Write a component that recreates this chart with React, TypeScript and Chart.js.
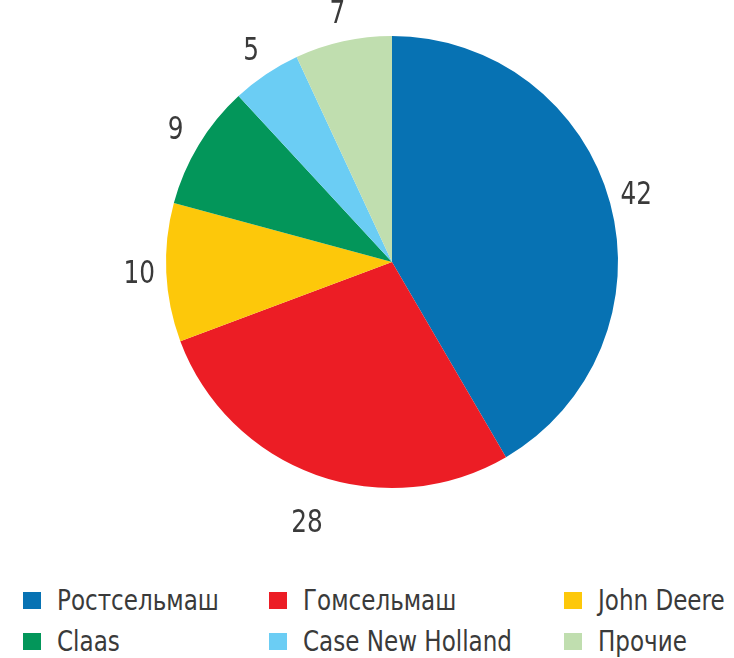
import React, { useEffect, useRef } from "react";
import { Chart, registerables } from "chart.js";

Chart.register(...registerables);

const categories = ["Ростсельмаш", "Гомсельмаш", "John Deere", "Claas", "Case New Holland", "Прочие"];
const shares = [42, 28, 10, 9, 5, 7];
const colors = ["#0772b3", "#ec1d25", "#fdc80a", "#03965a", "#6bcdf4", "#c0deaf"];
// legend order as in the picture (row-major, 3 columns)
const legendOrder = [0, 1, 2, 3, 4, 5];

const FONT = '"DejaVu Sans Condensed", "Liberation Sans Narrow", "Roboto", sans-serif';

const outerLabels = {
  id: "outerLabels",
  afterDraw(chart: any) {
    const ctx = chart.ctx;
    const meta = chart.getDatasetMeta(0);
    ctx.save();
    ctx.fillStyle = "#3a3a3a";
    ctx.font = `32px ${FONT}`;
    ctx.textAlign = "center";
    ctx.textBaseline = "middle";
    meta.data.forEach((arc: any, i: number) => {
      const { x, y, startAngle, endAngle, outerRadius } = arc.getProps(
        ["x", "y", "startAngle", "endAngle", "outerRadius"],
        true
      );
      const mid = (startAngle + endAngle) / 2;
      const r = outerRadius + 27;
      const s = Math.sin(mid);
      const lx = x + Math.cos(mid) * r;
      const ly = y + s * r * (s > 0 ? 1.1 : 1);
      ctx.save();
      ctx.translate(lx, ly);
      ctx.scale(0.86, 1);
      ctx.fillText(String(chart.data.datasets[0].data[i]), 0, 0);
      ctx.restore();
    });
    ctx.restore();
  },
};

export default function App() {
  const ref = useRef<HTMLCanvasElement>(null);
  useEffect(() => {
    document.body.style.margin = "0";
    const chart = new Chart(ref.current!, {
      type: "pie",
      data: {
        labels: categories,
        datasets: [
          {
            data: shares,
            backgroundColor: colors,
            borderWidth: 0,
          },
        ],
      },
      options: {
        animation: false,
        responsive: false,
        maintainAspectRatio: false,
        layout: { padding: { top: 36, left: 166, right: 116, bottom: 82 } },
        plugins: {
          legend: { display: false },
          tooltip: { enabled: false },
        },
      },
      plugins: [outerLabels],
    });
    return () => chart.destroy();
  }, []);

  return (
    <div style={{ position: "relative", width: 734, height: 658, background: "#fff", overflow: "hidden" }}>
      <canvas ref={ref} width={734} height={570} style={{ position: "absolute", left: 0, top: 0 }} />
      <div
        style={{
          position: "absolute",
          left: 23,
          top: 584,
          display: "grid",
          gridTemplateColumns: "246px 295px 170px",
          rowGap: 9,
          fontFamily: FONT,
          fontSize: 28,
          color: "#3a3a3a",
        }}
      >
        {legendOrder.map((i) => (
          <div key={i} style={{ display: "flex", alignItems: "center", height: 32, whiteSpace: "nowrap" }}>
            <span
              style={{
                display: "inline-block",
                flexShrink: 0,
                width: 18,
                height: 17,
                background: colors[i],
                marginRight: 16,
              }}
            />
            <span style={{ display: "inline-block", transform: "scaleX(0.915)", transformOrigin: "left center" }}>
              {categories[i]}
            </span>
          </div>
        ))}
      </div>
    </div>
  );
}
